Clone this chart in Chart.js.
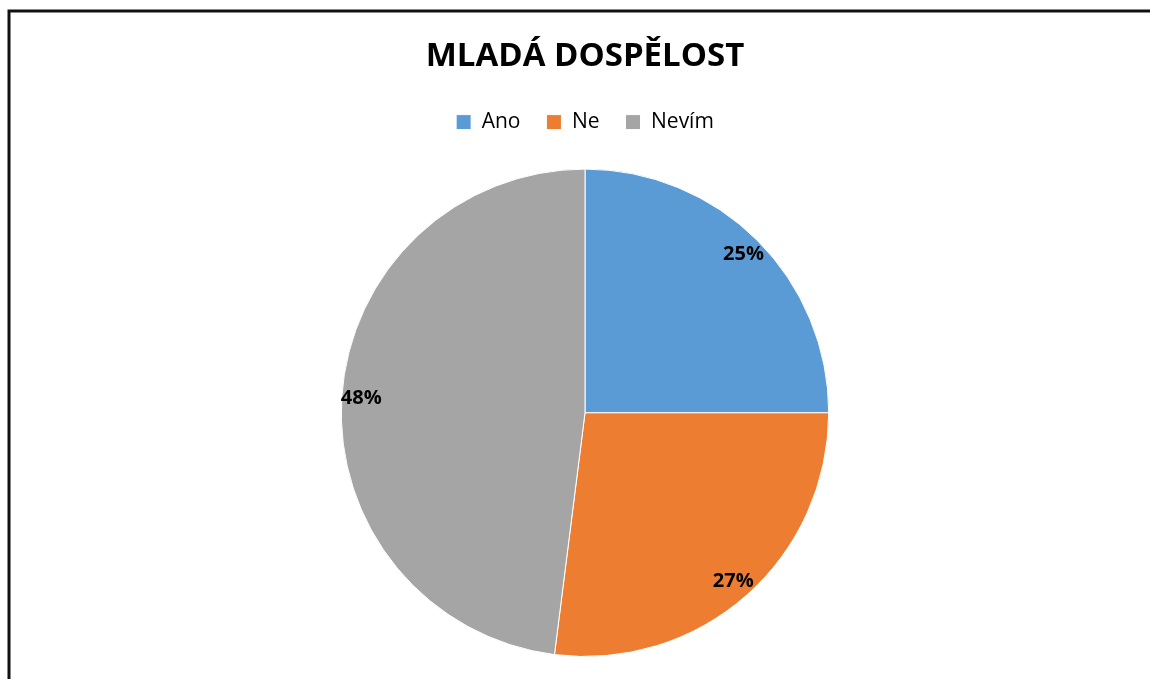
<!DOCTYPE html>
<html>
<head>
<meta charset="utf-8">
<script src="https://cdn.jsdelivr.net/npm/chart.js@4/dist/chart.umd.min.js"></script>
<style>
  body { margin: 0; background: #fff; }
  #wrap { position: relative; width: 1150px; height: 679px; }
</style>
</head>
<body>
<div id="wrap"><canvas id="MladaChart"></canvas></div>
<script>
const labels = ["Ano", "Ne", "Nevím"];
const values = [25, 27, 48];
const colors = ["#5B9BD5", "#ED7D31", "#A5A5A5"];

// frame of the original chart (only top and left edges are visible)
const framePlugin = {
  id: "frame",
  afterDraw(chart) {
    const ctx = chart.ctx;
    ctx.save();
    ctx.strokeStyle = "#111";
    ctx.lineWidth = 3;
    ctx.beginPath();
    ctx.moveTo(9, 700);
    ctx.lineTo(9, 11);
    ctx.lineTo(1160, 11);
    ctx.stroke();
    ctx.restore();
  },
};

// extra gap under the legend
const legendGap = {
  id: "legendGap",
  beforeInit(chart) {
    const fit = chart.legend.fit;
    chart.legend.fit = function () {
      fit.bind(chart.legend)();
      this.height += 26;
    };
  },
};

// percent labels near the outer edge of each slice
const pctLabels = {
  id: "pctLabels",
  afterDatasetsDraw(chart) {
    const ctx = chart.ctx;
    const meta = chart.getDatasetMeta(0);
    const data = chart.data.datasets[0].data;
    const total = data.reduce((a, b) => a + b, 0);
    ctx.save();
    ctx.font = "bold 20px 'Open Sans', sans-serif";
    ctx.fillStyle = "#000";
    ctx.textAlign = "center";
    ctx.textBaseline = "middle";
    meta.data.forEach((arc, i) => {
      const p = arc.getProps(["x", "y", "startAngle", "endAngle", "outerRadius"], true);
      const mid = (p.startAngle + p.endAngle) / 2;
      const r = p.outerRadius * 0.92;
      const pct = Math.round((data[i] / total) * 100) + "%";
      ctx.fillText(pct, p.x + Math.cos(mid) * r, p.y + Math.sin(mid) * r);
    });
    ctx.restore();
  },
};

new Chart(document.getElementById("MladaChart"), {
  type: "pie",
  data: {
    labels: labels,
    datasets: [
      {
        data: values,
        backgroundColor: colors,
        borderColor: "#fff",
        borderWidth: 1,
      },
    ],
  },
  options: {
    responsive: true,
    maintainAspectRatio: false,
    animation: false,
    layout: {
      padding: { top: 0, bottom: 22, left: 20, right: 0 },
    },
    plugins: {
      title: {
        display: true,
        text: "MLADÁ DOSPĚLOST",
        color: "#000",
        font: { family: "'Open Sans', sans-serif", size: 33, weight: "bold" },
        padding: { top: 37, bottom: 9 },
      },
      legend: {
        position: "top",
        labels: {
          color: "#000",
          font: { family: "'Open Sans', sans-serif", size: 21 },
          boxWidth: 15,
          boxHeight: 15,
          padding: 26,
        },
      },
      tooltip: { enabled: false },
    },
  },
  plugins: [legendGap, pctLabels, framePlugin],
});
</script>
</body>
</html>
